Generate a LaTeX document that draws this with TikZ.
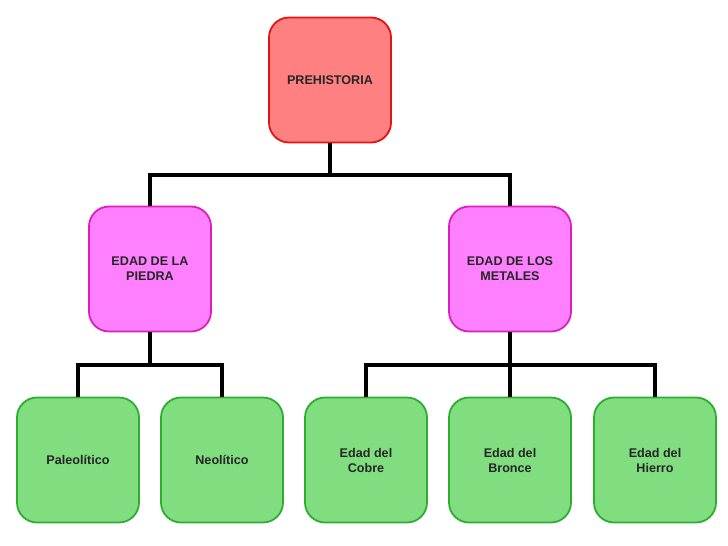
\documentclass[tikz,border=0pt]{standalone}
\usepackage{fontspec}
\setmainfont{Liberation Sans}
\begin{document}
\begin{tikzpicture}[x=1pt,y=-1pt,
  box/.style={rounded corners=20pt, line width=1.8pt, minimum width=122pt, minimum height=125pt, inner sep=2pt, align=center, font=\fontsize{12.6}{15}\selectfont\bfseries, text=black!85},
  topbox/.style={box, draw={rgb,255:red,225;green,20;blue,20}, fill={rgb,255:red,255;green,128;blue,128}},
  midbox/.style={box, draw={rgb,255:red,220;green,30;blue,190}, fill={rgb,255:red,255;green,128;blue,255}},
  lowbox/.style={box, draw={rgb,255:red,45;green,175;blue,45}, fill={rgb,255:red,128;green,222;blue,128}},
  conn/.style={line width=3.2pt, black}]
\useasboundingbox (0,0) rectangle (728,546);
\node[topbox] (pre) at (330,80) {PREHISTORIA};
\node[midbox] (piedra) at (150,269) {EDAD DE LA\\PIEDRA};
\node[midbox] (metales) at (510,269) {EDAD DE LOS\\METALES};
\node[lowbox] (paleo) at (78,460) {Paleolítico};
\node[lowbox] (neo) at (222,460) {Neolítico};
\node[lowbox] (cobre) at (366,460) {Edad del\\Cobre};
\node[lowbox] (bronce) at (510,460) {Edad del\\Bronce};
\node[lowbox] (hierro) at (655,460) {Edad del\\Hierro};
\coordinate (j1) at (330,175);
\coordinate (j2) at (150,365);
\coordinate (j3) at (510,365);
\draw[conn] (pre.south) -- (j1);
\draw[conn] (piedra.north) |- (j1) -| (metales.north);
\draw[conn] (piedra.south) -- (j2);
\draw[conn] (paleo.north) |- (j2) -| (neo.north);
\draw[conn] (metales.south) -- (bronce.north);
\draw[conn] (cobre.north) |- (j3) -| (hierro.north);
\end{tikzpicture}
\end{document}
